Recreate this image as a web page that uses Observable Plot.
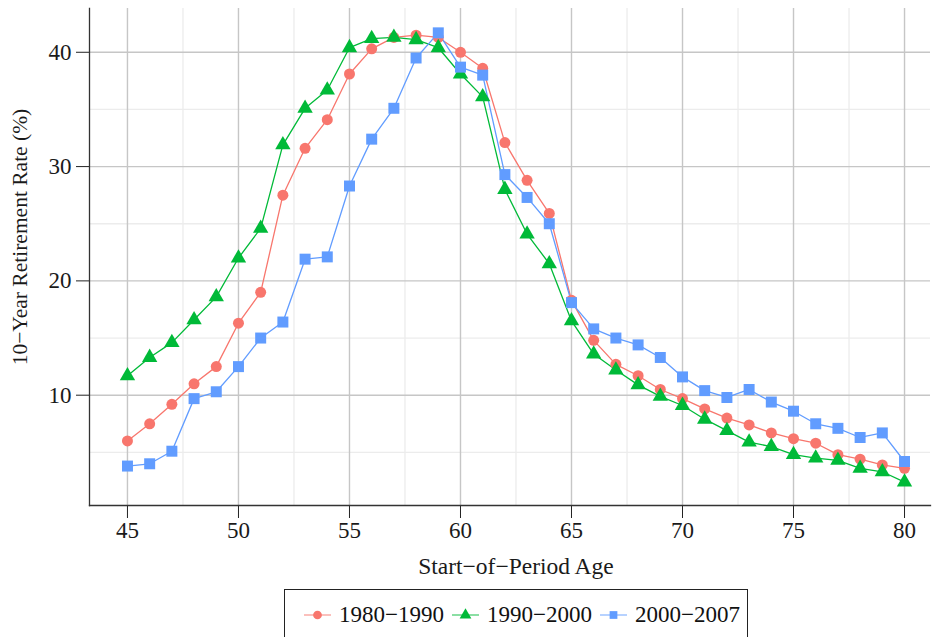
<!DOCTYPE html>
<html>
<head>
<meta charset="utf-8">
<script src="https://cdn.jsdelivr.net/npm/d3@7"></script>
<script src="https://cdn.jsdelivr.net/npm/@observablehq/plot@0.6"></script>
<style>
  html, body { margin: 0; padding: 0; background: #fff; }
  body { width: 932px; height: 637px; overflow: hidden; position: relative; font-family: "Liberation Serif", serif; }
  #legend { position: absolute; left: 284px; top: 589px; width: 464px; height: 60px; border: 1px solid #222; box-sizing: border-box;
            display: flex; align-items: flex-start; padding-left: 19px; padding-top: 12px; font-size: 23px; color: #111; }
  .item { display: flex; align-items: center; margin-right: 8px; }
  .item svg { margin-right: 8px; }
</style>
</head>
<body>
<div id="chart"></div>
<div id="legend"></div>
<script>
// ---- data ----
const periods = ["1980−1990", "1990−2000", "2000−2007"];
const ages = [45,46,47,48,49,50,51,52,53,54,55,56,57,58,59,60,61,62,63,64,65,66,67,68,69,70,71,72,73,74,75,76,77,78,79,80];
const rate1980 = [6.0,7.5,9.2,11.0,12.5,16.3,19.0,27.5,31.6,34.1,38.1,40.3,41.3,41.5,41.3,40.0,38.6,32.1,28.8,25.9,18.3,14.8,12.7,11.7,10.5,9.7,8.8,8.0,7.4,6.7,6.2,5.8,4.8,4.4,3.9,3.6];
const rate1990 = [11.7,13.3,14.6,16.6,18.6,22.0,24.6,31.9,35.1,36.7,40.4,41.2,41.3,41.1,40.4,38.1,36.1,28.0,24.1,21.5,16.5,13.6,12.2,10.9,9.9,9.1,7.9,6.9,5.9,5.5,4.8,4.5,4.3,3.6,3.3,2.4];
const rate2000 = [3.8,4.0,5.1,9.7,10.3,12.5,15.0,16.4,21.9,22.1,28.3,32.4,35.1,39.5,41.7,38.7,38.0,29.3,27.3,25.0,18.1,15.8,15.0,14.4,13.3,11.6,10.4,9.8,10.5,9.4,8.6,7.5,7.1,6.3,6.7,4.2];
const xTicks = [45,50,55,60,65,70,75,80];
const xMinor = [47.5,52.5,57.5,62.5,67.5,72.5,77.5];
const yTicks = [10,20,30,40];
const yMinor = [5,15,25,35];
const xLabel = "Start−of−Period Age";
const yLabel = "10−Year Retirement Rate (%)";

// ---- styles ----
const colors = ["#F8766D", "#00BA38", "#619CFF"];
const symbols = ["circle", "triangle", "square"];
const radii = [5.5, 5.7, 6.2];

const seriesValues = [rate1980, rate1990, rate2000];
const rows = [];
seriesValues.forEach((vals, i) => vals.forEach((v, j) => rows.push({period: periods[i], age: ages[j], rate: v})));

const dotMarks = periods.map((p, i) =>
  Plot.dot(rows.filter(d => d.period === p), {x: "age", y: "rate", fill: colors[i], symbol: symbols[i], r: radii[i], stroke: "none"})
);

const chart = Plot.plot({
  width: 932,
  height: 587,
  marginLeft: 89,
  marginRight: 2,
  marginTop: 8,
  marginBottom: 82,
  x: {domain: [43.29, 81.17]},
  y: {domain: [0.35, 43.83]},
  color: {domain: periods, range: colors},
  style: {fontFamily: "Liberation Serif, serif", fontSize: "23px", color: "#1a1a1a", background: "white"},
  marks: [
    Plot.gridX(xMinor, {stroke: "#ececec", strokeOpacity: 1, strokeWidth: 1.3}),
    Plot.gridY(yMinor, {stroke: "#ececec", strokeOpacity: 1, strokeWidth: 1.3}),
    Plot.gridX(xTicks, {stroke: "#c6c6c6", strokeOpacity: 1, strokeWidth: 1.4}),
    Plot.gridY(yTicks, {stroke: "#c6c6c6", strokeOpacity: 1, strokeWidth: 1.4}),
    Plot.axisX(xTicks, {tickSize: 13, tickPadding: 3, label: null, tickFormat: d => d, fontSize: 23, stroke: "#222"}),
    Plot.axisY(yTicks, {tickSize: 13, tickPadding: 5, label: null, tickFormat: d => d, fontSize: 23, stroke: "#222"}),
    Plot.frame({anchor: "left", stroke: "#333", strokeWidth: 1.3}),
    Plot.frame({anchor: "bottom", stroke: "#333", strokeWidth: 1.3}),
    Plot.line(rows, {x: "age", y: "rate", z: "period", stroke: "period", strokeWidth: 1.3}),
    ...dotMarks,
    Plot.text([xLabel], {frameAnchor: "bottom", textAnchor: "middle", lineAnchor: "middle", dy: 61, dx: 6, fontSize: 23.5, fill: "#1a1a1a"}),
    Plot.text([yLabel], {frameAnchor: "left", textAnchor: "middle", lineAnchor: "middle", rotate: -90, dx: -69, dy: -20, fontSize: 21.5, fill: "#1a1a1a"})
  ]
});
document.getElementById("chart").appendChild(chart);

// ---- legend ----
const legend = d3.select("#legend");
periods.forEach((p, i) => {
  const item = legend.append("div").attr("class", "item");
  const svg = item.append("svg").attr("width", 27).attr("height", 16);
  svg.append("line").attr("x1", 0).attr("x2", 27).attr("y1", 8).attr("y2", 8)
     .attr("stroke", colors[i]).attr("stroke-opacity", 0.7).attr("stroke-width", 1.3);
  const sym = d3.symbol().type(i === 0 ? d3.symbolCircle : i === 1 ? d3.symbolTriangle : d3.symbolSquare).size(60);
  svg.append("path").attr("d", sym()).attr("transform", "translate(13.5,8)").attr("fill", colors[i]);
  item.append("span").text(p);
});
</script>
</body>
</html>
